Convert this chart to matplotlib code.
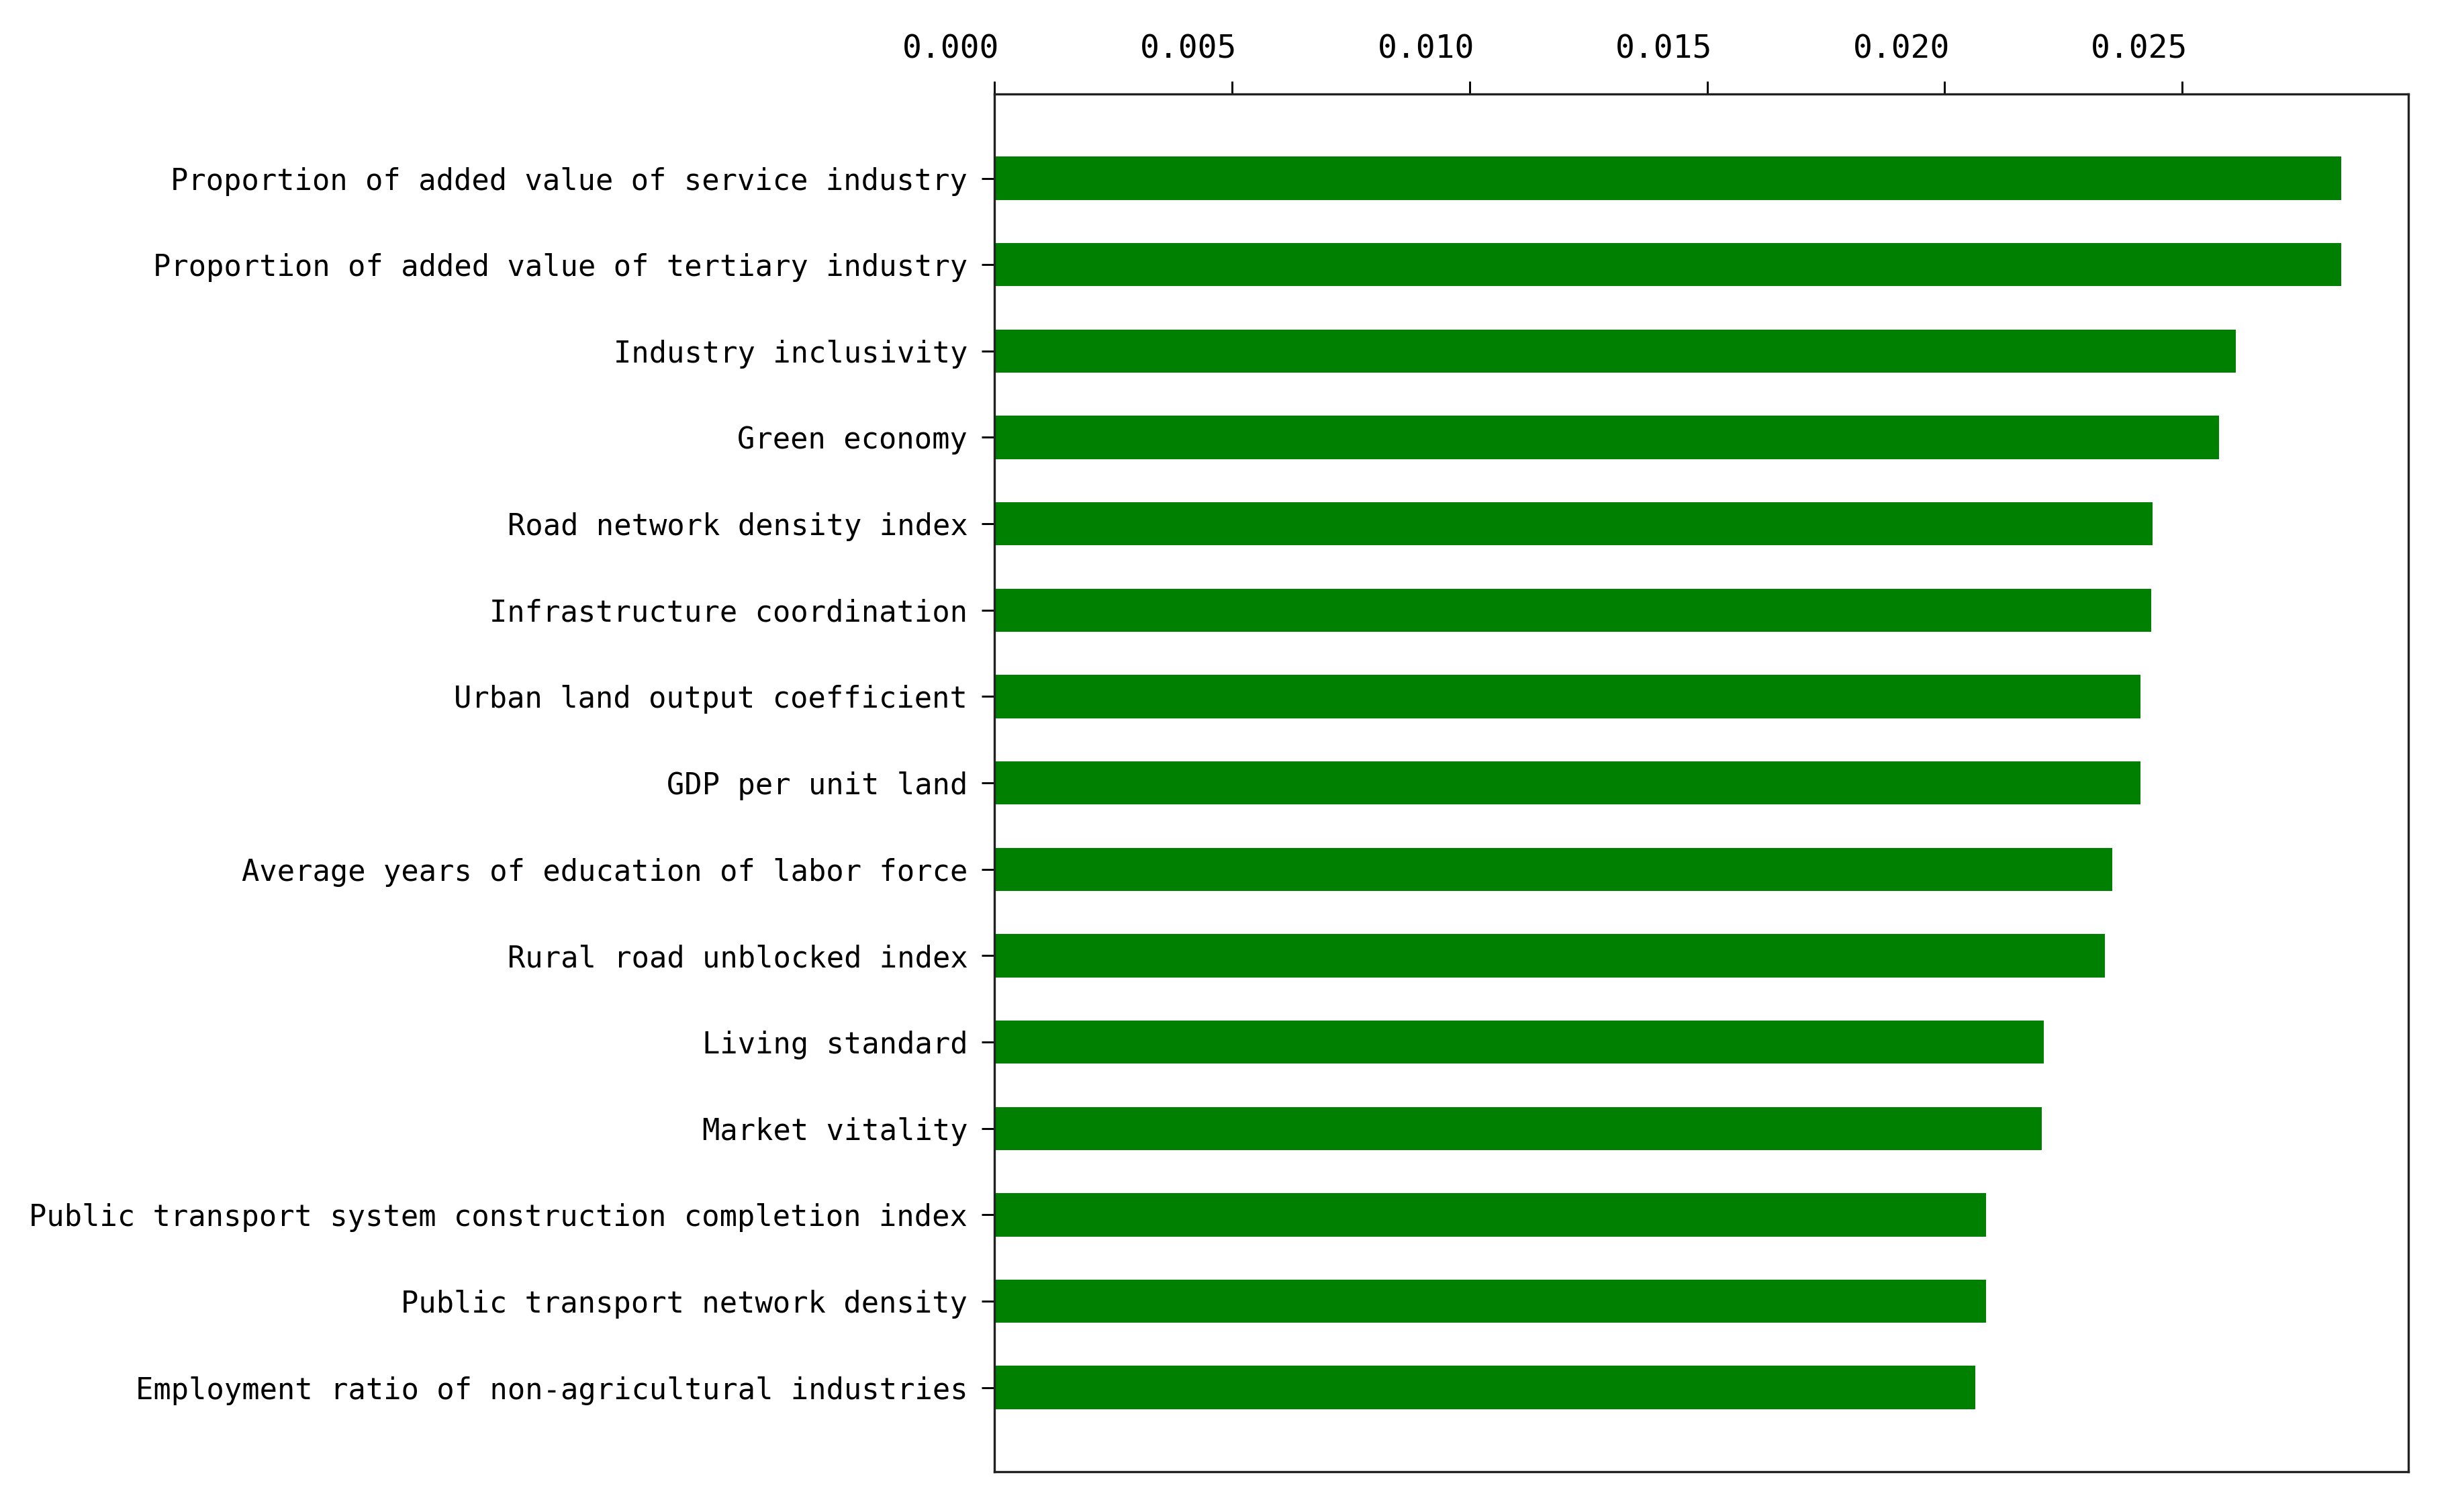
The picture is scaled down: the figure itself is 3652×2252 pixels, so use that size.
import matplotlib.pyplot as plt
import matplotlib.transforms as mtransforms
import numpy as np

# Indicator names, top to bottom
indicators = [
    'Proportion of added value of service industry',
    'Proportion of added value of tertiary industry',
    'Industry inclusivity',
    'Green economy',
    'Road network density index',
    'Infrastructure coordination',
    'Urban land output coefficient',
    'GDP per unit land',
    'Average years of education of labor force',
    'Rural road unblocked index',
    'Living standard',
    'Market vitality',
    'Public transport system construction completion index',
    'Public transport network density',
    'Employment ratio of non-agricultural industries',
]

# Importance values
importance = [0.02834, 0.02834, 0.02613, 0.02577, 0.02438, 0.02434, 0.02412,
              0.02412, 0.02353, 0.02337, 0.02209, 0.02204, 0.02087, 0.02087,
              0.02064]

xticks = [0.000, 0.005, 0.010, 0.015, 0.020, 0.025]

fig = plt.figure(figsize=(3652 / 300, 2252 / 300), dpi=300)
ax = fig.add_axes([0.4055, 0.0266, 0.9822 - 0.4055, 0.9378 - 0.0266])

y_pos = np.arange(len(indicators))
ax.barh(y_pos, importance, height=0.5, color='green')

ax.set_yticks(y_pos)
ax.set_yticklabels(indicators, fontsize=10.5, family='DejaVu Sans Mono')
ax.invert_yaxis()

# x axis on top, labels sit a little left of their ticks as in the original
ax.xaxis.tick_top()
ax.set_xticks(xticks)
ax.set_xticklabels([f'{t:.3f}' for t in xticks], fontsize=11.5,
                   family='DejaVu Sans Mono')
ax.tick_params(axis='x', length=4.5, width=0.7, pad=6)
ax.tick_params(axis='y', length=4.5, width=0.7, pad=5)
shift = mtransforms.ScaledTranslation(-0.215, 0, fig.dpi_scale_trans)
for lab in ax.get_xticklabels():
    lab.set_transform(lab.get_transform() + shift)

for spine in ax.spines.values():
    spine.set_linewidth(0.8)
    spine.set_color('#222222')

fig.savefig('out.png', dpi=300)
plt.close(fig)
